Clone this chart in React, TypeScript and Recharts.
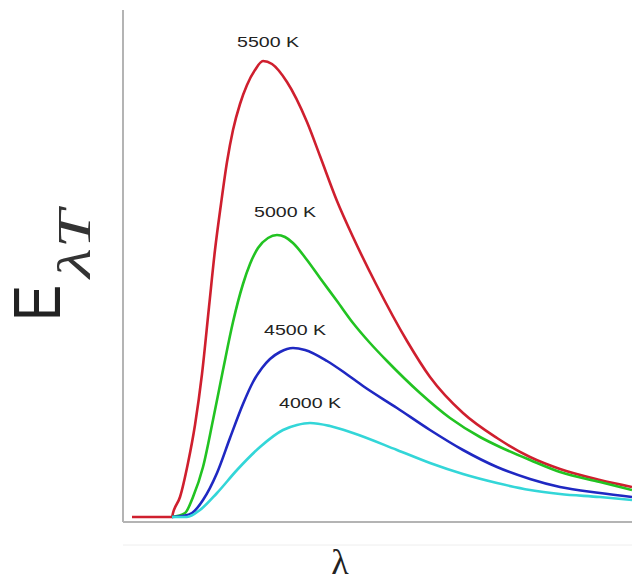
import { LineChart, Line, XAxis, YAxis, ReferenceDot } from 'recharts'

// wavelength (arbitrary units) and emissive power E (arbitrary units)
const red5500 = [
  { l: 9, e: 5 }, { l: 49, e: 5 }, { l: 50, e: 9 }, { l: 57, e: 25 }, { l: 65, e: 59 },
  { l: 72, e: 97 }, { l: 79, e: 148 }, { l: 86, e: 215 }, { l: 92, e: 272 }, { l: 98, e: 318 },
  { l: 104, e: 360 }, { l: 110, e: 392 }, { l: 117, e: 418 }, { l: 124, e: 437 }, { l: 132, e: 452 },
  { l: 140, e: 461 }, { l: 149, e: 458 }, { l: 164, e: 440 }, { l: 184, e: 400 }, { l: 197, e: 366 },
  { l: 214, e: 321 }, { l: 230, e: 285 }, { l: 253, e: 238 }, { l: 284, e: 181 }, { l: 307, e: 145 },
  { l: 340, e: 109 }, { l: 374, e: 84 }, { l: 407, e: 65 }, { l: 437, e: 53 }, { l: 477, e: 42 },
  { l: 509, e: 35 },
]

const green5000 = [
  { l: 49, e: 5 }, { l: 62, e: 9 }, { l: 70, e: 25 }, { l: 80, e: 55 }, { l: 90, e: 102 },
  { l: 100, e: 152 }, { l: 110, e: 200 }, { l: 120, e: 238 }, { l: 127, e: 258 }, { l: 135, e: 274 },
  { l: 145, e: 284 }, { l: 154, e: 287 }, { l: 162, e: 285 }, { l: 170, e: 279 }, { l: 184, e: 262 },
  { l: 197, e: 244 }, { l: 214, e: 221 }, { l: 230, e: 199 }, { l: 247, e: 179 }, { l: 264, e: 161 },
  { l: 297, e: 129 }, { l: 327, e: 104 }, { l: 357, e: 85 }, { l: 377, e: 75 }, { l: 407, e: 62 },
  { l: 437, e: 50 }, { l: 477, e: 40 }, { l: 509, e: 32 },
]

const blue4500 = [
  { l: 49, e: 5 }, { l: 59, e: 6 }, { l: 69, e: 9 }, { l: 80, e: 22 }, { l: 94, e: 49 },
  { l: 107, e: 84 }, { l: 120, e: 118 }, { l: 130, e: 140 }, { l: 139, e: 154 }, { l: 147, e: 163 },
  { l: 157, e: 170 }, { l: 170, e: 174 }, { l: 182, e: 172 }, { l: 204, e: 161 }, { l: 222, e: 149 },
  { l: 240, e: 136 }, { l: 274, e: 114 }, { l: 307, e: 92 }, { l: 340, e: 72 }, { l: 374, e: 55 },
  { l: 407, e: 43 }, { l: 437, e: 35 }, { l: 477, e: 29 }, { l: 509, e: 25 },
]

const cyan4000 = [
  { l: 49, e: 5 }, { l: 64, e: 5 }, { l: 77, e: 12 }, { l: 94, e: 29 }, { l: 114, e: 52 },
  { l: 137, e: 75 }, { l: 160, e: 92 }, { l: 174, e: 97 }, { l: 187, e: 99 }, { l: 207, e: 96 },
  { l: 230, e: 89 }, { l: 274, e: 72 }, { l: 307, e: 59 }, { l: 340, e: 48 }, { l: 374, e: 39 },
  { l: 407, e: 32 }, { l: 437, e: 28 }, { l: 477, e: 25 }, { l: 509, e: 22 },
]

// temperature labels, anchored in data units above each peak
const tempLabels = [
  { text: '5500 K', l: 145, e: 480 },
  { text: '5000 K', l: 162, e: 310 },
  { text: '4500 K', l: 172, e: 192 },
  { text: '4000 K', l: 187, e: 119 },
]

const series = [
  { key: '5500', data: red5500, color: '#cf1f2e' },
  { key: '5000', data: green5000, color: '#22c322' },
  { key: '4500', data: blue4500, color: '#1f28c2' },
  { key: '4000', data: cyan4000, color: '#33d6d8' },
]

function TempLabel(props: any) {
  const { viewBox, value } = props
  const cx = viewBox.x + (viewBox.width ?? 0) / 2
  const cy = viewBox.y + (viewBox.height ?? 0) / 2
  return (
    <text
      x={cx - 31}
      y={cy + 5}
      fontSize={14}
      fill="#222"
      fontFamily="Liberation Sans, Arial, sans-serif"
      textLength={62}
      lengthAdjust="spacingAndGlyphs"
    >
      {value}
    </text>
  )
}

export default function App() {
  return (
    <div style={{ position: 'absolute', left: 0, top: 0, width: 632, height: 582, background: '#fff' }}>
      <LineChart
        width={632}
        height={582}
        margin={{ top: 10, right: 0, left: 122, bottom: 59 }}
      >
        <XAxis
          type="number"
          dataKey="l"
          domain={[0, 509]}
          height={1}
          tick={false}
          tickLine={false}
          axisLine={{ stroke: '#b4b4b4', strokeWidth: 2 }}
        />
        <YAxis
          type="number"
          dataKey="e"
          domain={[0, 512]}
          width={1}
          tick={false}
          tickLine={false}
          axisLine={{ stroke: '#b4b4b4', strokeWidth: 2 }}
        />
        {series.map((s) => (
          <Line
            key={s.key}
            data={s.data}
            dataKey="e"
            type="monotone"
            stroke={s.color}
            strokeWidth={2.6}
            dot={false}
            isAnimationActive={false}
          />
        ))}
        {tempLabels.map((t) => (
          <ReferenceDot
            key={t.text}
            x={t.l}
            y={t.e}
            r={0}
            stroke="none"
            fill="none"
            label={<TempLabel value={t.text} />}
          />
        ))}
      </LineChart>
      <svg
        width={632}
        height={582}
        style={{ position: 'absolute', left: 0, top: 0, pointerEvents: 'none' }}
      >
        <line x1={123} y1={545} x2={632} y2={545} stroke="#eeeeee" strokeWidth={1} />
        <text
          transform="translate(60,321) rotate(-90)"
          fontSize={66}
          fontFamily="Liberation Sans, Arial, sans-serif"
          fill="#222"
          textLength={36}
          lengthAdjust="spacingAndGlyphs"
        >
          E
        </text>
        <text
          transform="translate(90,278) rotate(-90)"
          fontSize={46}
          fontStyle="italic"
          fontFamily="Liberation Serif, Times New Roman, serif"
          fill="#333"
          textLength={68}
          lengthAdjust="spacingAndGlyphs"
        >
          λT
        </text>
        <text
          x={340}
          y={574}
          textAnchor="middle"
          fontSize={36}
          fontFamily="Liberation Serif, Times New Roman, serif"
          fill="#222"
        >
          λ
        </text>
      </svg>
    </div>
  )
}
